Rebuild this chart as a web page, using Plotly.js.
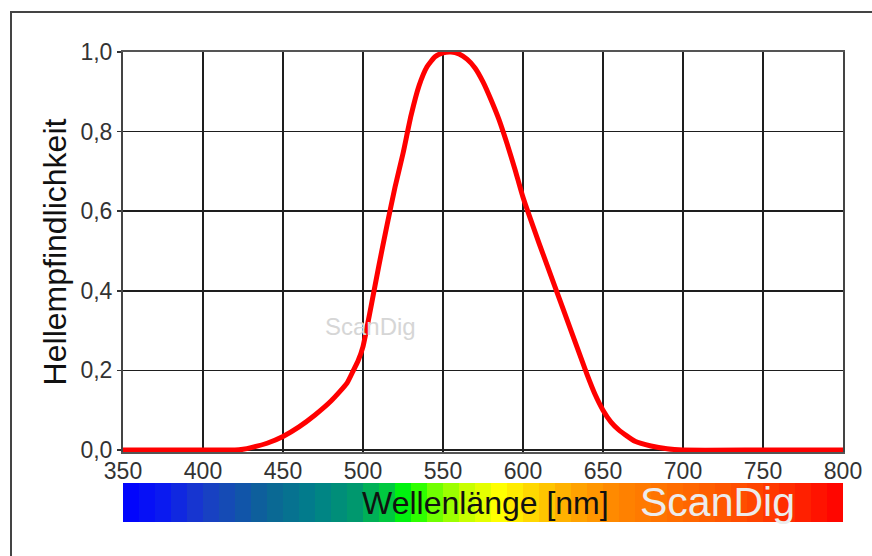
<!DOCTYPE html>
<html>
<head>
<meta charset="utf-8">
<script src="https://cdn.plot.ly/plotly-3.0.1.min.js"></script>
<style>
  html, body { margin: 0; padding: 0; background: #ffffff; }
  #chart { width: 872px; height: 556px; }
</style>
</head>
<body>
<div id="chart"></div>
<script>
// Wavelength (nm) and relative luminous sensitivity
var wavelength = [350, 400, 420, 425, 430, 440, 450, 460, 470, 480, 490, 494, 497, 500, 505, 510, 515, 520, 525, 530, 535, 540, 545, 550, 555, 560, 565, 570, 575, 580, 585, 590, 595, 600, 610, 620, 630, 640, 645, 650, 655, 660, 670, 680, 690, 700, 750, 800];
var sensitivity = [0, 0, 0, 0.002, 0.006, 0.017, 0.034, 0.058, 0.088, 0.123, 0.168, 0.2, 0.225, 0.26, 0.36, 0.465, 0.565, 0.66, 0.745, 0.84, 0.915, 0.963, 0.988, 0.998, 1.0, 0.995, 0.982, 0.96, 0.925, 0.88, 0.83, 0.77, 0.705, 0.635, 0.52, 0.41, 0.3, 0.19, 0.14, 0.1, 0.07, 0.05, 0.022, 0.01, 0.003, 0, 0, 0];

// Axis ticks
var xTicks = [350, 400, 450, 500, 550, 600, 650, 700, 750, 800];
var yTicks = [0, 0.2, 0.4, 0.6, 0.8, 1.0];
var yTickLabels = ["0,0", "0,2", "0,4", "0,6", "0,8", "1,0"];

// Spectrum strip: band centres (nm)
var spectrumBands = [355, 365, 375, 385, 395, 405, 415, 425, 435, 445, 455, 465, 475, 485, 495, 505, 515, 525, 535, 545, 555, 565, 575, 585, 595, 605, 615, 625, 635, 645, 655, 665, 675, 685, 695, 705, 715, 725, 735, 745, 755, 765, 775, 785, 795];
var spectrumStops = [350, 375, 400, 440, 470, 495, 515, 528, 545, 565, 585, 605, 630, 660, 700, 740, 775, 800];
var spectrumColors = ["#0000ff", "#0a1af0", "#1a3cc8", "#0c6496", "#00808a", "#00986e", "#00c840", "#00ff00", "#70ff00", "#c8ff00", "#ffff00", "#ffd800", "#ffa800", "#ff8400", "#ff6a00", "#ff4a00", "#ff2000", "#ff0000"];

var textTitleY = "Hellempfindlichkeit";
var textTitleX = "Wellenlänge [nm]";
var textBrand = "ScanDig";

var PW = 872, PH = 556;
var L = 123, R = 843, T = 52, B = 522;
function px(x) { return (x - L) / (R - L); }
function py(y) { return (B - y) / (B - T); }

var colorscale = spectrumStops.map(function (s, i) {
  return [(s - spectrumStops[0]) / (spectrumStops[spectrumStops.length - 1] - spectrumStops[0]), spectrumColors[i]];
});

var traces = [
  {
    type: 'heatmap',
    x: spectrumBands,
    y: [0],
    z: [spectrumBands],
    xaxis: 'x',
    yaxis: 'y2',
    colorscale: colorscale,
    zmin: spectrumStops[0],
    zmax: spectrumStops[spectrumStops.length - 1],
    showscale: false,
    zsmooth: false,
    hoverinfo: 'skip'
  },
  {
    type: 'scatter',
    mode: 'lines',
    x: wavelength,
    y: sensitivity,
    xaxis: 'x',
    yaxis: 'y',
    line: { color: '#ff0000', width: 5, shape: 'spline', smoothing: 0.5 },
    hoverinfo: 'x+y'
  }
];

var tickFont = { family: 'Liberation Sans, Arial, sans-serif', size: 23, color: '#333333' };

var layout = {
  width: PW,
  height: PH,
  margin: { l: L, r: PW - R, t: T, b: PH - B, pad: 0 },
  paper_bgcolor: '#ffffff',
  plot_bgcolor: '#ffffff',
  showlegend: false,
  font: { family: 'Liberation Sans, Arial, sans-serif' },
  xaxis: {
    range: [350, 800],
    anchor: 'y',
    tickvals: xTicks,
    ticktext: xTicks.map(String),
    ticks: '',
    ticklabelstandoff: -3,
    tickfont: tickFont,
    showgrid: true,
    gridcolor: '#1e1e1e',
    gridwidth: 1.6,
    zeroline: false,
    showline: true,
    mirror: true,
    linecolor: '#555555',
    linewidth: 2,
    fixedrange: true
  },
  yaxis: {
    domain: [py(452), 1],
    range: [-0.005, 1.0],
    tickvals: yTicks,
    ticktext: yTickLabels,
    ticks: 'outside',
    ticklen: 4,
    tickwidth: 1.5,
    tickcolor: '#333333',
    tickfont: tickFont,
    showgrid: true,
    gridcolor: '#1e1e1e',
    gridwidth: 1.6,
    zeroline: false,
    showline: true,
    mirror: true,
    linecolor: '#444444',
    linewidth: 2,
    fixedrange: true,
    title: { text: textTitleY, font: { family: 'Liberation Sans, Arial, sans-serif', size: 32, color: '#111111' }, standoff: 4 }
  },
  yaxis2: {
    domain: [0, py(483)],
    range: [-0.5, 0.5],
    showticklabels: false,
    showgrid: false,
    zeroline: false,
    ticks: '',
    fixedrange: true
  },
  shapes: [
    {
      type: 'rect', xref: 'paper', yref: 'paper',
      x0: px(11), x1: px(890), y0: py(580), y1: py(12),
      line: { color: '#444444', width: 2 },
      fillcolor: 'rgba(0,0,0,0)'
    }
  ],
  annotations: [
    {
      text: textTitleX, xref: 'paper', yref: 'paper',
      x: px(485), y: py(503), xanchor: 'center', yanchor: 'middle',
      showarrow: false,
      font: { family: 'Liberation Sans, Arial, sans-serif', size: 32, color: '#111111' }
    },
    {
      text: textBrand, xref: 'paper', yref: 'paper',
      x: px(717), y: py(502), xanchor: 'center', yanchor: 'middle',
      showarrow: false,
      font: { family: 'Liberation Sans, Arial, sans-serif', size: 41, color: '#ececec' }
    },
    {
      text: textBrand, xref: 'paper', yref: 'paper',
      x: px(370), y: py(326), xanchor: 'center', yanchor: 'middle',
      showarrow: false,
      font: { family: 'Liberation Sans, Arial, sans-serif', size: 24, color: '#d6d6d6' }
    }
  ]
};

Plotly.newPlot('chart', traces, layout, { displayModeBar: false, staticPlot: true });
</script>
</body>
</html>
